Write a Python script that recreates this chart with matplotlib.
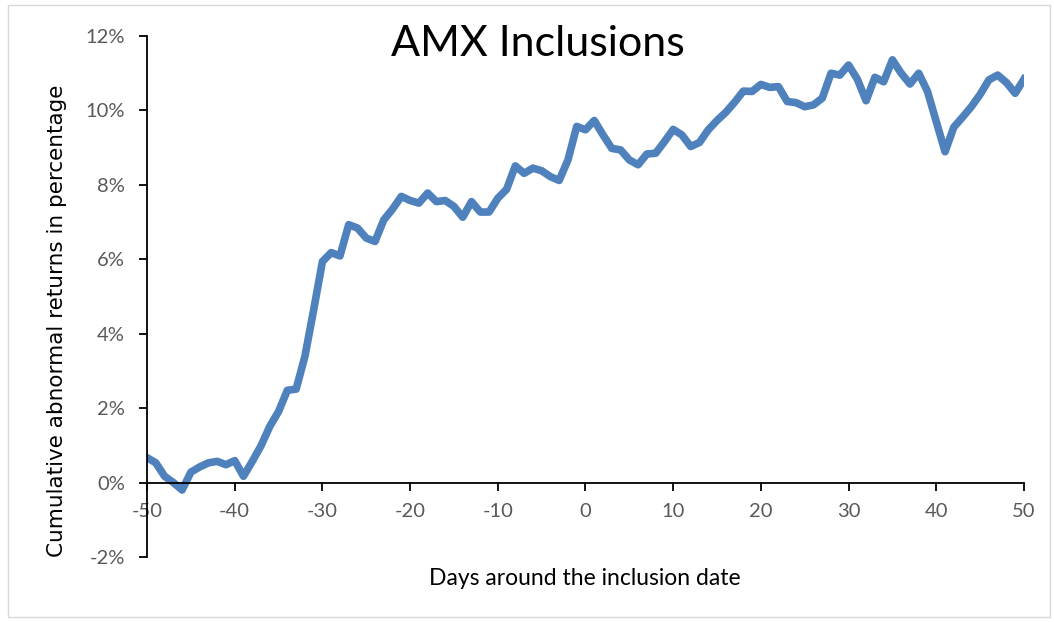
import matplotlib.pyplot as plt
from matplotlib.patches import Rectangle
from matplotlib.ticker import FuncFormatter

plt.rcParams['axes.unicode_minus'] = False

# Cumulative abnormal returns (%) around AMX inclusion date, days -50..50
days = list(range(-50, 51))
car = [0.67, 0.53, 0.17, 0.00, -0.20, 0.28, 0.42, 0.53, 0.57, 0.48,
       0.59, 0.17, 0.57, 0.99, 1.51, 1.91, 2.48, 2.51, 3.39, 4.64,
       5.94, 6.18, 6.09, 6.93, 6.84, 6.57, 6.48, 7.06, 7.35, 7.69,
       7.58, 7.51, 7.78, 7.55, 7.58, 7.42, 7.13, 7.55, 7.27, 7.27,
       7.64, 7.88, 8.51, 8.31, 8.45, 8.38, 8.22, 8.12, 8.67, 9.57,
       9.48, 9.73, 9.34, 8.98, 8.94, 8.67, 8.54, 8.83, 8.85, 9.16,
       9.49, 9.34, 9.03, 9.14, 9.48, 9.73, 9.95, 10.22, 10.52, 10.51,
       10.70, 10.62, 10.64, 10.24, 10.21, 10.10, 10.15, 10.33, 11.00, 10.95,
       11.22, 10.84, 10.26, 10.89, 10.77, 11.36, 11.00, 10.71, 11.00, 10.51,
       9.70, 8.89, 9.55, 9.82, 10.10, 10.43, 10.82, 10.95, 10.75, 10.46,
       10.84]
x_ticks = [-50, -40, -30, -20, -10, 0, 10, 20, 30, 40, 50]
y_ticks = [-2, 0, 2, 4, 6, 8, 10, 12]

fig = plt.figure(figsize=(10.54, 6.22), dpi=100)
ax = fig.add_axes([0.1395, 0.1045, 0.8320, 0.8376])

ax.plot(days, car, color='#4F81BD', linewidth=5.5, solid_joinstyle='round')

ax.set_xlim(-50, 50)
ax.set_ylim(-2, 12)
ax.set_xticks(x_ticks)
ax.set_yticks(y_ticks)
ax.yaxis.set_major_formatter(FuncFormatter(lambda v, p: f'{v:.0f}%'))

ax.spines['top'].set_visible(False)
ax.spines['right'].set_visible(False)
ax.spines['bottom'].set_position(('data', 0))
for s in ('left', 'bottom'):
    ax.spines[s].set_color('black')
    ax.spines[s].set_linewidth(1.3)

ax.tick_params(axis='both', direction='out', length=6, width=1.3,
               labelsize=14.5, colors='black')
for lab in ax.get_xticklabels() + ax.get_yticklabels():
    lab.set_color('#595959')
    lab.set_fontfamily('Lato')
ax.tick_params(axis='x', pad=9)
ax.tick_params(axis='y', pad=10)

fig.text(0.51, 0.93, 'AMX Inclusions', ha='center', va='center',
         fontsize=31, family='Lato')
fig.text(0.054, 0.485, 'Cumulative abnormal returns in percentage', rotation=90,
         ha='center', va='center', fontsize=15.5, family='DejaVu Sans')
fig.text(0.555, 0.07, 'Days around the inclusion date', ha='center', va='center',
         fontsize=16.5, family='Lato')

fig.patches.append(Rectangle((0.008, 0.008), 0.988, 0.984, transform=fig.transFigure,
                             fill=False, edgecolor='#D9D9D9', linewidth=1))

plt.savefig('out.png', dpi=100)
